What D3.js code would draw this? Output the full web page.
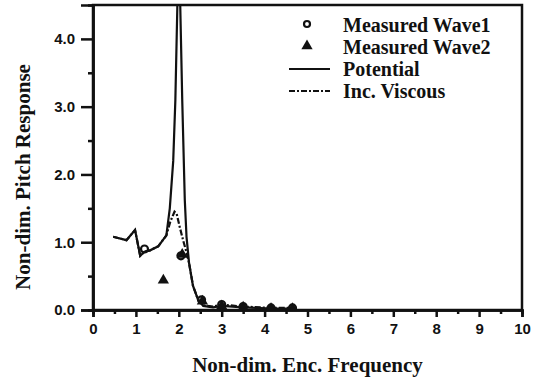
<!DOCTYPE html>
<html><head><meta charset="utf-8">
<script src="https://cdn.jsdelivr.net/npm/d3@7"></script>
<style>body{margin:0;background:#fff}svg{display:block}</style>
</head><body>
<svg id="c" width="540" height="385"></svg>
<script>
// ---- data ----
const xTicks = [0,1,2,3,4,5,6,7,8,9,10];
const yTicks = [0,1,2,3,4];
const yTickLabels = ["0.0","1.0","2.0","3.0","4.0"];
const potentialF = [0.47,0.78,0.98,1.1,1.2,1.33,1.52,1.71,1.79,1.87,1.92,1.97,2.0,2.03,2.08,2.14,2.18,2.24,2.33,2.45,2.57,2.8,3.0,3.5,4.2,4.75];
const potentialV = [1.08,1.03,1.18,0.8,0.86,0.88,0.94,1.1,1.5,2.2,3.1,4.6,5.5,4.6,3.1,1.62,1.08,0.69,0.36,0.15,0.06,0.04,0.06,0.04,0.02,0.02];
const viscousF = [0.47,0.78,0.98,1.1,1.2,1.33,1.52,1.71,1.8,1.9,1.95,2.02,2.1,2.18,2.24,2.33,2.45,2.57,2.8,3.0,3.5,4.2,4.75];
const viscousV = [1.08,1.03,1.18,0.8,0.86,0.88,0.94,1.1,1.3,1.45,1.42,1.23,1.03,0.85,0.69,0.36,0.15,0.07,0.05,0.08,0.05,0.03,0.03];
const wave1F = [1.2,2.05,2.53,3.0,3.5,4.15,4.65];
const wave1V = [0.9,0.8,0.15,0.08,0.05,0.03,0.03];
const wave2F = [1.64,2.08,2.55,3.0,3.5,4.15,4.65];
const wave2V = [0.44,0.82,0.13,0.06,0.04,0.02,0.02];
const legendLabels = ["Measured Wave1","Measured Wave2","Potential","Inc. Viscous"];
const xTitle = "Non-dim. Enc. Frequency";
const yTitle = "Non-dim. Pitch Response";

// ---- chart ----
const svg = d3.select("#c");
const x = d3.scaleLinear().domain([0,10]).range([93,522]);
const y = d3.scaleLinear().domain([0,4.5]).range([310,5]);
const ink = "#111";

svg.append("clipPath").attr("id","clip").append("rect")
  .attr("x",x(0)).attr("y",y(4.5)).attr("width",x(10)-x(0)).attr("height",y(0)-y(4.5));

// frame
svg.append("rect").attr("x",x(0)).attr("y",y(4.5)).attr("width",x(10)-x(0)).attr("height",y(0)-y(4.5))
  .attr("fill","none").attr("stroke",ink).attr("stroke-width",2.5);

// x axis
const xAxis = d3.axisBottom(x).tickValues(xTicks).tickSize(7).tickPadding(6).tickFormat(d3.format("d"));
svg.append("g").attr("transform",`translate(0,${y(0)})`).call(xAxis);
const xMinor = d3.axisBottom(x).tickValues(d3.range(0.5,10,1)).tickSize(4).tickFormat("");
svg.append("g").attr("transform",`translate(0,${y(0)})`).call(xMinor);
// y axis
const yAxis = d3.axisLeft(y).tickValues(yTicks).tickSize(12).tickPadding(6).tickFormat((d,i)=>yTickLabels[i]);
svg.append("g").attr("transform",`translate(${x(0)},0)`).call(yAxis);
const yMinor = d3.axisLeft(y).tickValues(d3.range(0.5,4.5,1)).tickSize(5).tickFormat("");
svg.append("g").attr("transform",`translate(${x(0)},0)`).call(yMinor);

svg.selectAll(".domain").attr("stroke",ink).attr("stroke-width",2.5);
svg.selectAll(".tick line").attr("stroke",ink).attr("stroke-width",2.5);
svg.selectAll(".tick text").attr("fill",ink)
  .style("font-family","'Liberation Sans',Arial,sans-serif").style("font-weight","bold").style("font-size","15px");

// titles
svg.append("text").attr("x",(x(0)+x(10))/2).attr("y",372).attr("text-anchor","middle")
  .style("font-family","'Liberation Serif','Times New Roman',serif").style("font-weight","bold").style("font-size","21px")
  .attr("fill",ink).text(xTitle);
svg.append("text").attr("transform","translate(30,177) rotate(-90)").attr("text-anchor","middle")
  .style("font-family","'Liberation Serif','Times New Roman',serif").style("font-weight","bold").style("font-size","21px")
  .attr("fill",ink).text(yTitle);

// curves
const line = d3.line().x(d=>x(d[0])).y(d=>y(d[1]));
const plot = svg.append("g").attr("clip-path","url(#clip)");
plot.append("path").datum(potentialF.map((f,i)=>[f,potentialV[i]])).attr("d",line)
  .attr("fill","none").attr("stroke",ink).attr("stroke-width",2.2);
plot.append("path").datum(viscousF.map((f,i)=>[f,viscousV[i]])).attr("d",line)
  .attr("fill","none").attr("stroke",ink).attr("stroke-width",2.2).attr("stroke-dasharray","6,2,2,2");

// markers
const tri = d3.symbol().type(d3.symbolTriangle).size(55);
plot.selectAll(".w2").data(wave2F.map((f,i)=>[f,wave2V[i]])).join("path")
  .attr("transform",d=>`translate(${x(d[0])},${y(d[1])})`).attr("d",tri).attr("fill",ink);
plot.selectAll(".w1").data(wave1F.map((f,i)=>[f,wave1V[i]])).join("circle")
  .attr("cx",d=>x(d[0])).attr("cy",d=>y(d[1])).attr("r",3.5)
  .attr("fill","none").attr("stroke",ink).attr("stroke-width",2.2);

// legend
const lg = svg.append("g");
const rowsY = [25,47,69,91];
const lf = "'Liberation Serif','Times New Roman',serif";
legendLabels.forEach((t,i)=>{
  lg.append("text").attr("x",343).attr("y",rowsY[i]).attr("dy","0.35em")
    .style("font-family",lf).style("font-weight","bold").style("font-size","20px").attr("fill",ink).text(t);
});
lg.append("circle").attr("cx",307).attr("cy",rowsY[0]-1).attr("r",3).attr("fill","none").attr("stroke",ink).attr("stroke-width",2.2);
lg.append("path").attr("transform",`translate(307,${rowsY[1]-1})`).attr("d",tri).attr("fill",ink);
lg.append("line").attr("x1",289).attr("x2",330).attr("y1",rowsY[2]).attr("y2",rowsY[2]).attr("stroke",ink).attr("stroke-width",2);
lg.append("line").attr("x1",289).attr("x2",330).attr("y1",rowsY[3]).attr("y2",rowsY[3]).attr("stroke",ink).attr("stroke-width",2).attr("stroke-dasharray","6,2,2,2");
</script>
</body></html>
